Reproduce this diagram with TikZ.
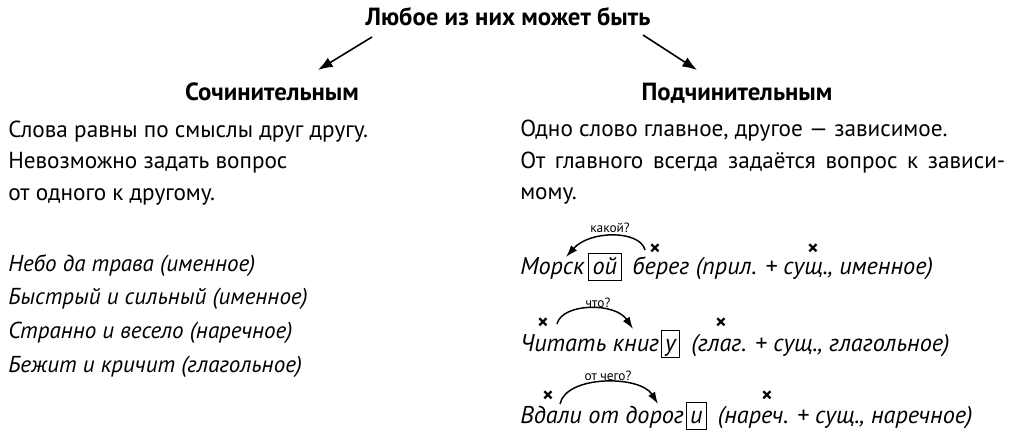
\documentclass[tikz,border=0pt]{standalone}
\usepackage{fontspec}
\setmainfont{PT Sans}
\usetikzlibrary{arrows.meta}
\begin{document}
\begin{tikzpicture}[x=0.75pt,y=0.75pt,
  every node/.style={inner sep=0pt},
  body/.style={font=\fontsize{17.4}{20}\selectfont, anchor=base west},
  head/.style={font=\bfseries\fontsize{18.6}{20}\selectfont, anchor=base},
  exl/.style={font=\itshape\fontsize{17.3}{20}\selectfont, anchor=base west},
  ex/.style={font=\itshape\fontsize{18.2}{20}\selectfont, anchor=base west},
  boxed/.style={draw, line width=0.75pt, font=\itshape\fontsize{18.2}{20}\selectfont, anchor=base west, inner xsep=3pt, inner ysep=0pt, text height=15.75pt, text depth=4.5pt},
  qlabel/.style={font=\fontsize{10}{10}\selectfont, anchor=base},
  crossmark/.style={font=\bfseries\fontsize{16}{16}\selectfont, anchor=center},
  bigarrow/.style={-{Latex[length=11pt,width=8pt]}, line width=1.2pt},
  qarrow/.style={-{Latex[length=9pt,width=6pt]}, line width=1.1pt}
]
\useasboundingbox (0,0) rectangle (1017,-441);

% title and branches
\node[head] (title) at (508,-26) {Любое из них может быть};
\node[head] (coord) at (272,-101) {Сочинительным};
\node[head] (subord) at (737,-101) {Подчинительным};
\coordinate (a1s) at (372,-37);
\coordinate (a1e) at (318,-70);
\coordinate (a2s) at (643,-35);
\coordinate (a2e) at (697,-70);
\draw[bigarrow] (a1s) -- (a1e);
\draw[bigarrow] (a2s) -- (a2e);

% left column
\node[body] (l1) at (8,-137.5) {Слова равны по смыслы друг другу.};
\node[body] (l2) at (8,-169) {Невозможно задать вопрос};
\node[body] (l3) at (8,-201) {от одного к другому.};
\node[exl] (e1) at (8,-271.5) {Небо да трава (именное)};
\node[exl] (e2) at (8,-305) {Быстрый и сильный (именное)};
\node[exl] (e3) at (8,-338.5) {Странно и весело (наречное)};
\node[exl] (e4) at (8,-372.5) {Бежит и кричит (глагольное)};

% right column
\node[body] (r1) at (520,-137) {Одно слово главное, другое — зависимое.};
\node[body] (r2) at (520,-168.5) {\makebox[363.75pt][s]{От главного всегда задаётся вопрос к зависи-}};
\node[body] (r3) at (520,-200) {мому.};

% example 1
\node[ex] (m1) at (520,-275) {Морск};
\node[boxed] (m2) at ([xshift=2.5pt]m1.base east) {ой};
\node[ex] (m3) at ([xshift=8pt]m2.base east) {берег (прил. + сущ., именное)};
\node[crossmark] (x1a) at (655,-250) {×};
\node[crossmark] (x1b) at (813,-250) {×};
\coordinate (q1s) at (645,-250);
\coordinate (q1e) at (566,-257);
\draw[qarrow] (q1s) .. controls (640,-230) and (590,-230) .. (q1e);
\node[qlabel] (q1) at (610,-233) {какой?};

% example 2
\node[ex] (k1) at (520,-352) {Читать книг};
\node[boxed] (k2) at ([xshift=1pt]k1.base east) {у};
\node[ex] (k3) at ([xshift=8pt]k2.base east) {(глаг. + сущ., глагольное)};
\node[crossmark] (x2a) at (543,-324) {×};
\node[crossmark] (x2b) at (721,-324) {×};
\coordinate (q2s) at (557,-324);
\coordinate (q2e) at (633,-329);
\draw[qarrow] (q2s) .. controls (562,-303) and (615,-302) .. (q2e);
\node[qlabel] (q2) at (598,-308) {что?};

% example 3
\node[ex] (d1) at (520,-423) {Вдали от дорог};
\node[boxed] (d2) at ([xshift=1pt]d1.base east) {и};
\node[ex] (d3) at ([xshift=8pt]d2.base east) {(нареч. + сущ., наречное)};
\node[crossmark] (x3a) at (548,-397) {×};
\node[crossmark] (x3b) at (767,-397) {×};
\coordinate (q3s) at (560,-404);
\coordinate (q3e) at (658,-404);
\draw[qarrow] (q3s) .. controls (566,-375) and (640,-375) .. (q3e);
\node[qlabel] (q3) at (608,-381) {от чего?};
\end{tikzpicture}
\end{document}
